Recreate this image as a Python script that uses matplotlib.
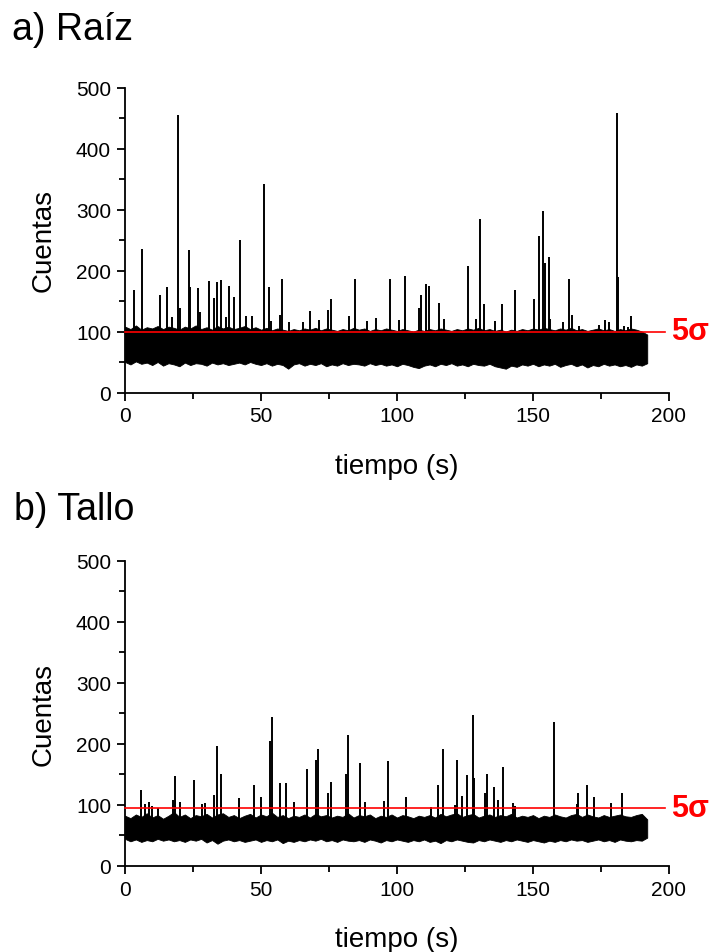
import numpy as np
import matplotlib
matplotlib.use("Agg")
import matplotlib.pyplot as plt
from matplotlib.ticker import MultipleLocator
from matplotlib.transforms import blended_transform_factory

plt.rcParams['font.family'] = ['Liberation Sans', 'DejaVu Sans']

# ---------------- data ----------------
# baseline noise envelope sampled every 2 s (t = 0..192 s)
band_t = list(range(0, 193, 2))

a_low = [50, 46, 51, 47, 49, 45, 50, 44, 48, 46, 43, 49, 45, 48, 47, 44, 49, 46, 48, 45,
         47, 49, 46, 50, 47, 45, 48, 44, 47, 45, 39, 46, 48, 44, 47, 45, 48, 43, 46, 44,
         48, 45, 47, 46, 44, 48, 45, 47, 44, 46, 43, 47, 45, 42, 40, 44, 46, 43, 47, 45,
         48, 44, 46, 43, 47, 45, 44, 47, 43, 41, 39, 44, 42, 46, 44, 47, 43, 46, 44, 47,
         42, 45, 47, 43, 46, 41, 45, 43, 47, 44, 46, 43, 45, 42, 46, 44, 48]
a_high = [108, 104, 110, 103, 107, 105, 109, 104, 108, 106, 103, 108, 105, 110, 104, 107, 103, 109, 105, 108,
          104, 106, 109, 104, 107, 103, 106, 102, 105, 103, 101, 104, 102, 105, 103, 106, 102, 105, 103, 101,
          104, 102, 106, 103, 105, 101, 104, 102, 105, 103, 101, 104, 102, 100, 103, 101, 104, 102, 105, 103,
          101, 104, 102, 105, 103, 106, 102, 104, 101, 103, 100, 103, 101, 104, 102, 105, 103, 106, 104, 102,
          105, 103, 106, 102, 104, 101, 103, 105, 102, 104, 101, 104, 102, 105, 103, 100, 95]

b_low = [44, 40, 43, 39, 42, 40, 44, 41, 43, 40, 42, 39, 43, 41, 44, 38, 42, 36, 41, 43,
         40, 42, 39, 41, 43, 39, 42, 40, 43, 37, 41, 39, 42, 40, 43, 41, 44, 40, 42, 39,
         43, 41, 40, 42, 39, 43, 41, 38, 42, 40, 43, 41, 39, 42, 40, 43, 39, 41, 37, 42,
         40, 43, 41, 39, 38, 42, 40, 43, 41, 39, 42, 40, 43, 41, 39, 42, 40, 38, 41, 39,
         42, 40, 43, 41, 42, 39, 41, 43, 40, 42, 39, 43, 41, 40, 42, 41, 46]
b_high = [82, 78, 84, 80, 86, 79, 83, 77, 82, 88, 80, 84, 78, 83, 81, 85, 79, 84, 86, 80,
          83, 78, 82, 85, 79, 84, 81, 87, 80, 83, 78, 82, 80, 84, 79, 85, 81, 83, 79, 82,
          80, 86, 79, 83, 81, 84, 78, 82, 80, 84, 79, 83, 81, 78, 82, 80, 83, 79, 85, 81,
          84, 86, 80, 83, 85, 79, 82, 84, 80, 83, 81, 85, 79, 82, 80, 83, 78, 82, 80, 84,
          81, 79, 83, 85, 80, 84, 81, 79, 83, 80, 82, 84, 81, 80, 83, 85, 76]

# spikes (time s, counts)
a_spike_t = [3.4, 6.1, 12.9, 15.4, 17.3, 19.4, 20.3, 23.4, 23.8, 26.7, 27.6, 30.8, 32.7, 33.7,
             35.3, 37.0, 38.1, 40.0, 42.2, 44.5, 46.8, 51.0, 52.8, 53.6, 57.0, 57.6, 60.4, 65.3,
             68.0, 71.3, 74.8, 75.6, 82.4, 84.4, 88.8, 92.2, 97.4, 100.6, 102.8, 108.1, 108.8,
             110.7, 111.9, 115.3, 117.2, 126.1, 129.2, 130.6, 131.9, 136.2, 138.5, 143.4, 150.5,
             152.2, 153.7, 154.3, 155.8, 156.4, 161.2, 163.1, 164.5, 166.9, 174.3, 176.6, 177.9,
             181.0, 181.4, 183.3, 184.8, 186.2]
a_spike_v = [168, 235, 160, 173, 123, 455, 138, 234, 173, 171, 132, 183, 155, 181,
             185, 123, 175, 156, 250, 125, 126, 342, 173, 117, 127, 186, 115, 116,
             134, 119, 136, 153, 126, 186, 117, 122, 186, 119, 191, 139, 160,
             178, 174, 146, 120, 207, 120, 284, 145, 117, 145, 168, 154,
             256, 298, 213, 222, 121, 116, 186, 127, 109, 110, 119, 115,
             459, 189, 109, 107, 125]

b_spike_t = [5.8, 7.4, 8.8, 9.8, 12.3, 17.5, 18.3, 20.2, 25.4, 28.2, 29.4, 32.7, 33.7, 35.3,
             41.9, 47.3, 50.0, 53.2, 53.9, 57.0, 59.2, 62.3, 66.8, 70.2, 70.8, 74.5, 75.7,
             81.1, 81.9, 86.3, 88.4, 95.3, 96.6, 103.2, 112.4, 114.9, 117.0, 121.3, 122.0,
             123.9, 125.9, 127.8, 128.4, 132.4, 133.0, 135.5, 137.1, 139.0, 142.6, 143.5,
             157.6, 166.0, 166.5, 169.7, 172.5, 178.8, 182.6]
b_spike_v = [124, 101, 105, 98, 95, 108, 147, 105, 141, 101, 102, 116, 197, 151,
             111, 132, 112, 204, 244, 135, 135, 104, 159, 174, 191, 119, 138,
             151, 214, 168, 105, 106, 171, 112, 97, 132, 191, 99, 174,
             114, 149, 247, 144, 119, 150, 129, 107, 161, 102, 98,
             235, 101, 119, 132, 112, 102, 119]

a_threshold = 100
b_threshold = 94

panel_titles = ["a) Raíz", "b) Tallo"]
ylabel = "Cuentas"
xlabel = "tiempo (s)"
thr_label = "5σ"

# ---------------- figure ----------------
fig = plt.figure(figsize=(7.10, 9.53), dpi=100)
W, H = 710, 953

def axes_px(left, right, top, bottom):
    return fig.add_axes([left / W, 1 - bottom / H, (right - left) / W, (bottom - top) / H])

ax_a = axes_px(125, 669, 88.5, 393.5)
ax_b = axes_px(125, 669, 561.7, 866.7)

panels = [
    (ax_a, a_low, a_high, a_spike_t, a_spike_v, a_threshold),
    (ax_b, b_low, b_high, b_spike_t, b_spike_v, b_threshold),
]

for ax, lo, hi, st, sv, thr in panels:
    ax.fill_between(band_t, lo, hi, color='black', lw=0.6, edgecolor='black', zorder=2)
    base = [(l + h) / 2 for l, h in zip([lo[min(int(round(t / 2)), len(lo) - 1)] for t in st],
                                         [hi[min(int(round(t / 2)), len(hi) - 1)] for t in st])]
    ax.vlines(st, base, sv, color='black', lw=1.4, zorder=3)
    ax.plot([0, 198.5], [thr, thr], color='#ff0000', lw=1.2, zorder=4, clip_on=False)
    tr = blended_transform_factory(ax.transAxes, ax.transData)
    ax.text(1.004, thr, thr_label, transform=tr, color='#ff0000', fontsize=22,
            fontweight='bold', ha='left', va='center')

    ax.set_xlim(0, 200)
    ax.set_ylim(0, 500)
    ax.xaxis.set_major_locator(MultipleLocator(50))
    ax.xaxis.set_minor_locator(MultipleLocator(25))
    ax.yaxis.set_major_locator(MultipleLocator(100))
    ax.yaxis.set_minor_locator(MultipleLocator(50))
    for s in ['top', 'right']:
        ax.spines[s].set_visible(False)
    for s in ['left', 'bottom']:
        ax.spines[s].set_linewidth(1.3)
    ax.tick_params(which='major', direction='out', length=6, width=1.3, labelsize=15, pad=4)
    ax.tick_params(which='minor', direction='out', length=4, width=1.3)
    ax.set_ylabel(ylabel, fontsize=20, labelpad=14)
    ax.set_xlabel(xlabel, fontsize=20, labelpad=20)

fig.text(12 / W, 1 - 30 / H, panel_titles[0], fontsize=27, ha='left', va='center')
fig.text(14 / W, 1 - 510 / H, panel_titles[1], fontsize=27, ha='left', va='center')

fig.savefig("out.png", dpi=100)
